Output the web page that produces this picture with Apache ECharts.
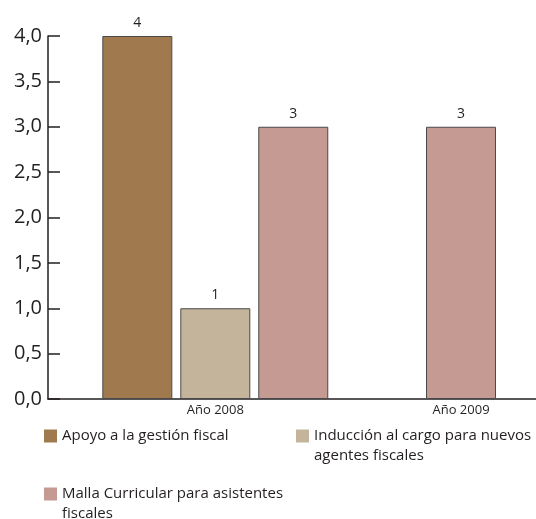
<!DOCTYPE html>
<html><head><meta charset="utf-8">
<script src="https://cdn.jsdelivr.net/npm/echarts@6/dist/echarts.min.js"></script>
<style>html,body{margin:0;padding:0;background:#fff}#c{width:536px;height:519px}</style>
</head><body><div id="c"></div>
<script>
const categories = ['Año 2008', 'Año 2009'];
const apoyo = [4, '-'];
const induccion = [1, '-'];
const malla2008 = [3, '-'];
const malla2009 = ['-', 3];
const names = ['Apoyo a la gestión fiscal', 'Inducción al cargo para nuevos agentes fiscales', 'Malla Curricular para asistentes fiscales'];
const legendText = {
  'Apoyo a la gestión fiscal': 'Apoyo a la gestión fiscal',
  'Inducción al cargo para nuevos agentes fiscales': '\u00a0\nInducción al cargo para nuevos\nagentes fiscales',
  'Malla Curricular para asistentes fiscales': '\u00a0\nMalla Curricular para asistentes\nfiscales'
};
const colors = ['#A07A4E', '#C4B49C', '#C49A93'];
const FONT = 'Open Sans';
const chart = echarts.init(document.getElementById('c'));
const labelCfg = {show: true, position: 'top', distance: 6, fontSize: 14, color: '#231f20', fontFamily: FONT};
const barBase = {type: 'bar', barWidth: 70, barGap: '11.4%', label: labelCfg};
function legendItem(name, left, top) {
  return {
    data: [name], left: left, top: top, itemWidth: 13, itemHeight: 13, itemGap: 0,
    icon: 'rect', padding: 0, selectedMode: false,
    itemStyle: {borderWidth: 0},
    formatter: n => legendText[n],
    textStyle: {fontSize: 15, color: '#231f20', fontFamily: FONT, lineHeight: 20}
  };
}
chart.setOption({
  animation: false,
  color: colors,
  grid: [
    {left: 48, right: 0, top: 36, bottom: 120},
    {left: 215.3, right: 75, top: 36, bottom: 120}
  ],
  xAxis: [
    {type: 'category', gridIndex: 0, data: [''], axisLine: {lineStyle: {color: '#231f20', width: 1.5}}, axisTick: {show: false}, axisLabel: {show: false}},
    {type: 'category', gridIndex: 1, data: categories, boundaryGap: false, axisLine: {show: false}, axisTick: {show: false},
      axisLabel: {fontSize: 13, color: '#231f20', fontFamily: FONT, margin: 5}},
    {type: 'category', gridIndex: 1, data: categories, boundaryGap: false, show: false}
  ],
  yAxis: [
    {type: 'value', gridIndex: 0, min: 0, max: 4, interval: 0.5,
      axisLine: {show: true, lineStyle: {color: '#231f20', width: 1.5}},
      axisTick: {show: true, inside: true, length: 12, lineStyle: {color: '#231f20', width: 1.5}},
      splitLine: {show: false},
      axisLabel: {fontSize: 20, color: '#231f20', fontFamily: FONT, margin: 6, formatter: v => v.toFixed(1).replace('.', ',')}},
    {type: 'value', gridIndex: 1, min: 0, max: 4, interval: 0.5, show: false, splitLine: {show: false}}
  ],
  legend: [
    legendItem(names[0], 44, 426),
    legendItem(names[1], 296, 406),
    legendItem(names[2], 44, 464)
  ],
  series: [
    Object.assign({}, barBase, {name: names[0], xAxisIndex: 1, yAxisIndex: 1, data: apoyo, itemStyle: {color: colors[0], borderColor: '#4a4a4a', borderWidth: 1}}),
    Object.assign({}, barBase, {name: names[1], xAxisIndex: 1, yAxisIndex: 1, data: induccion, itemStyle: {color: colors[1], borderColor: '#4a4a4a', borderWidth: 1}}),
    Object.assign({}, barBase, {name: names[2], xAxisIndex: 1, yAxisIndex: 1, data: malla2008, itemStyle: {color: colors[2], borderColor: '#4a4a4a', borderWidth: 1}}),
    Object.assign({}, barBase, {name: names[2], xAxisIndex: 2, yAxisIndex: 1, data: malla2009, itemStyle: {color: colors[2], borderColor: '#4a4a4a', borderWidth: 1}})
  ]
});
</script></body></html>
